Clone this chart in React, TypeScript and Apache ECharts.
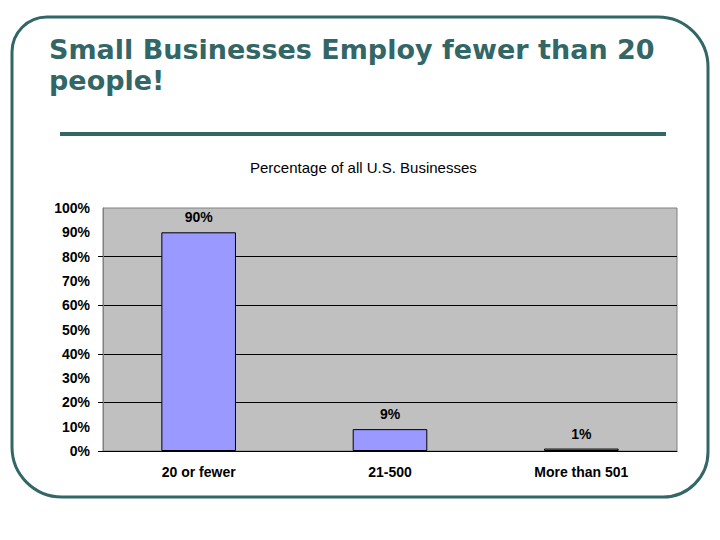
import React, { useEffect, useRef } from "react";
import * as echarts from "echarts";

const categories = ["20 or fewer", "21-500", "More than 501"];
const shares = [90, 9, 1];
const yLabelStep = 10;
const gridLineValues = [0, 20, 40, 60, 80];

const TEAL = "#336666";
const FONT = "'Liberation Sans', Arial, sans-serif";

export default function App() {
  const ref = useRef<HTMLDivElement>(null);
  useEffect(() => {
    if (!ref.current) return;
    const chart = echarts.init(ref.current, null, { renderer: "svg" });
    chart.setOption({
      animation: false,
      backgroundColor: "#ffffff",
      textStyle: { fontFamily: FONT },
      title: [
        {
          text: "Small Businesses Employ fewer than 20\npeople!",
          left: 44,
          top: 29,
          textStyle: {
            fontFamily: "'DejaVu Sans', sans-serif",
            fontSize: 27,
            fontWeight: "bold",
            lineHeight: 31,
            color: TEAL,
          },
        },
        {
          text: "Percentage of all U.S. Businesses",
          left: 245,
          top: 155,
          textStyle: {
            fontFamily: FONT,
            fontSize: 15,
            fontWeight: "normal",
            color: "#000",
          },
        },
      ],
      graphic: [
        {
          type: "rect",
          shape: { x: 12, y: 17, width: 696, height: 480, r: [35, 50, 45, 50] },
          style: { fill: "none", stroke: TEAL, lineWidth: 3 },
          z: 100,
        },
        {
          type: "rect",
          shape: { x: 60, y: 132, width: 606, height: 4 },
          style: { fill: TEAL },
        },
      ],
      grid: {
        left: 103,
        right: 43,
        top: 208,
        bottom: 89,
        show: true,
        backgroundColor: "#c0c0c0",
        borderColor: "#808080",
        borderWidth: 1,
      },
      xAxis: {
        type: "category",
        data: categories,
        axisLine: { show: true, lineStyle: { color: "#000", width: 1 } },
        axisTick: { show: false },
        axisLabel: {
          fontFamily: FONT,
          fontSize: 14,
          fontWeight: "bold",
          color: "#000",
          margin: 14,
        },
        z: 5,
      },
      yAxis: {
        type: "value",
        min: 0,
        max: 100,
        interval: yLabelStep,
        axisLine: { show: true, lineStyle: { color: "#808080", width: 1 } },
        axisTick: {
          show: true,
          length: 5,
          customValues: gridLineValues,
          lineStyle: { color: "#000", width: 1 },
        },
        axisLabel: {
          formatter: "{value}%",
          fontFamily: FONT,
          fontSize: 14,
          fontWeight: "bold",
          color: "#000",
          margin: 13,
        },
        splitLine: {
          show: true,
          showMinLine: false,
          showMaxLine: true,
          lineStyle: { color: "#000", width: 1 },
        },
      },
      series: [
        {
          type: "bar",
          data: shares,
          barWidth: "39%",
          itemStyle: { color: "#9999ff", borderColor: "#000", borderWidth: 1 },
          label: {
            show: true,
            position: "top",
            distance: 8,
            formatter: "{c}%",
            fontFamily: FONT,
            fontSize: 14,
            fontWeight: "bold",
            color: "#000",
          },
        },
      ],
    });
    return () => chart.dispose();
  }, []);
  return (
    <div
      ref={ref}
      style={{ position: "fixed", left: 0, top: 0, width: 720, height: 540 }}
    />
  );
}
